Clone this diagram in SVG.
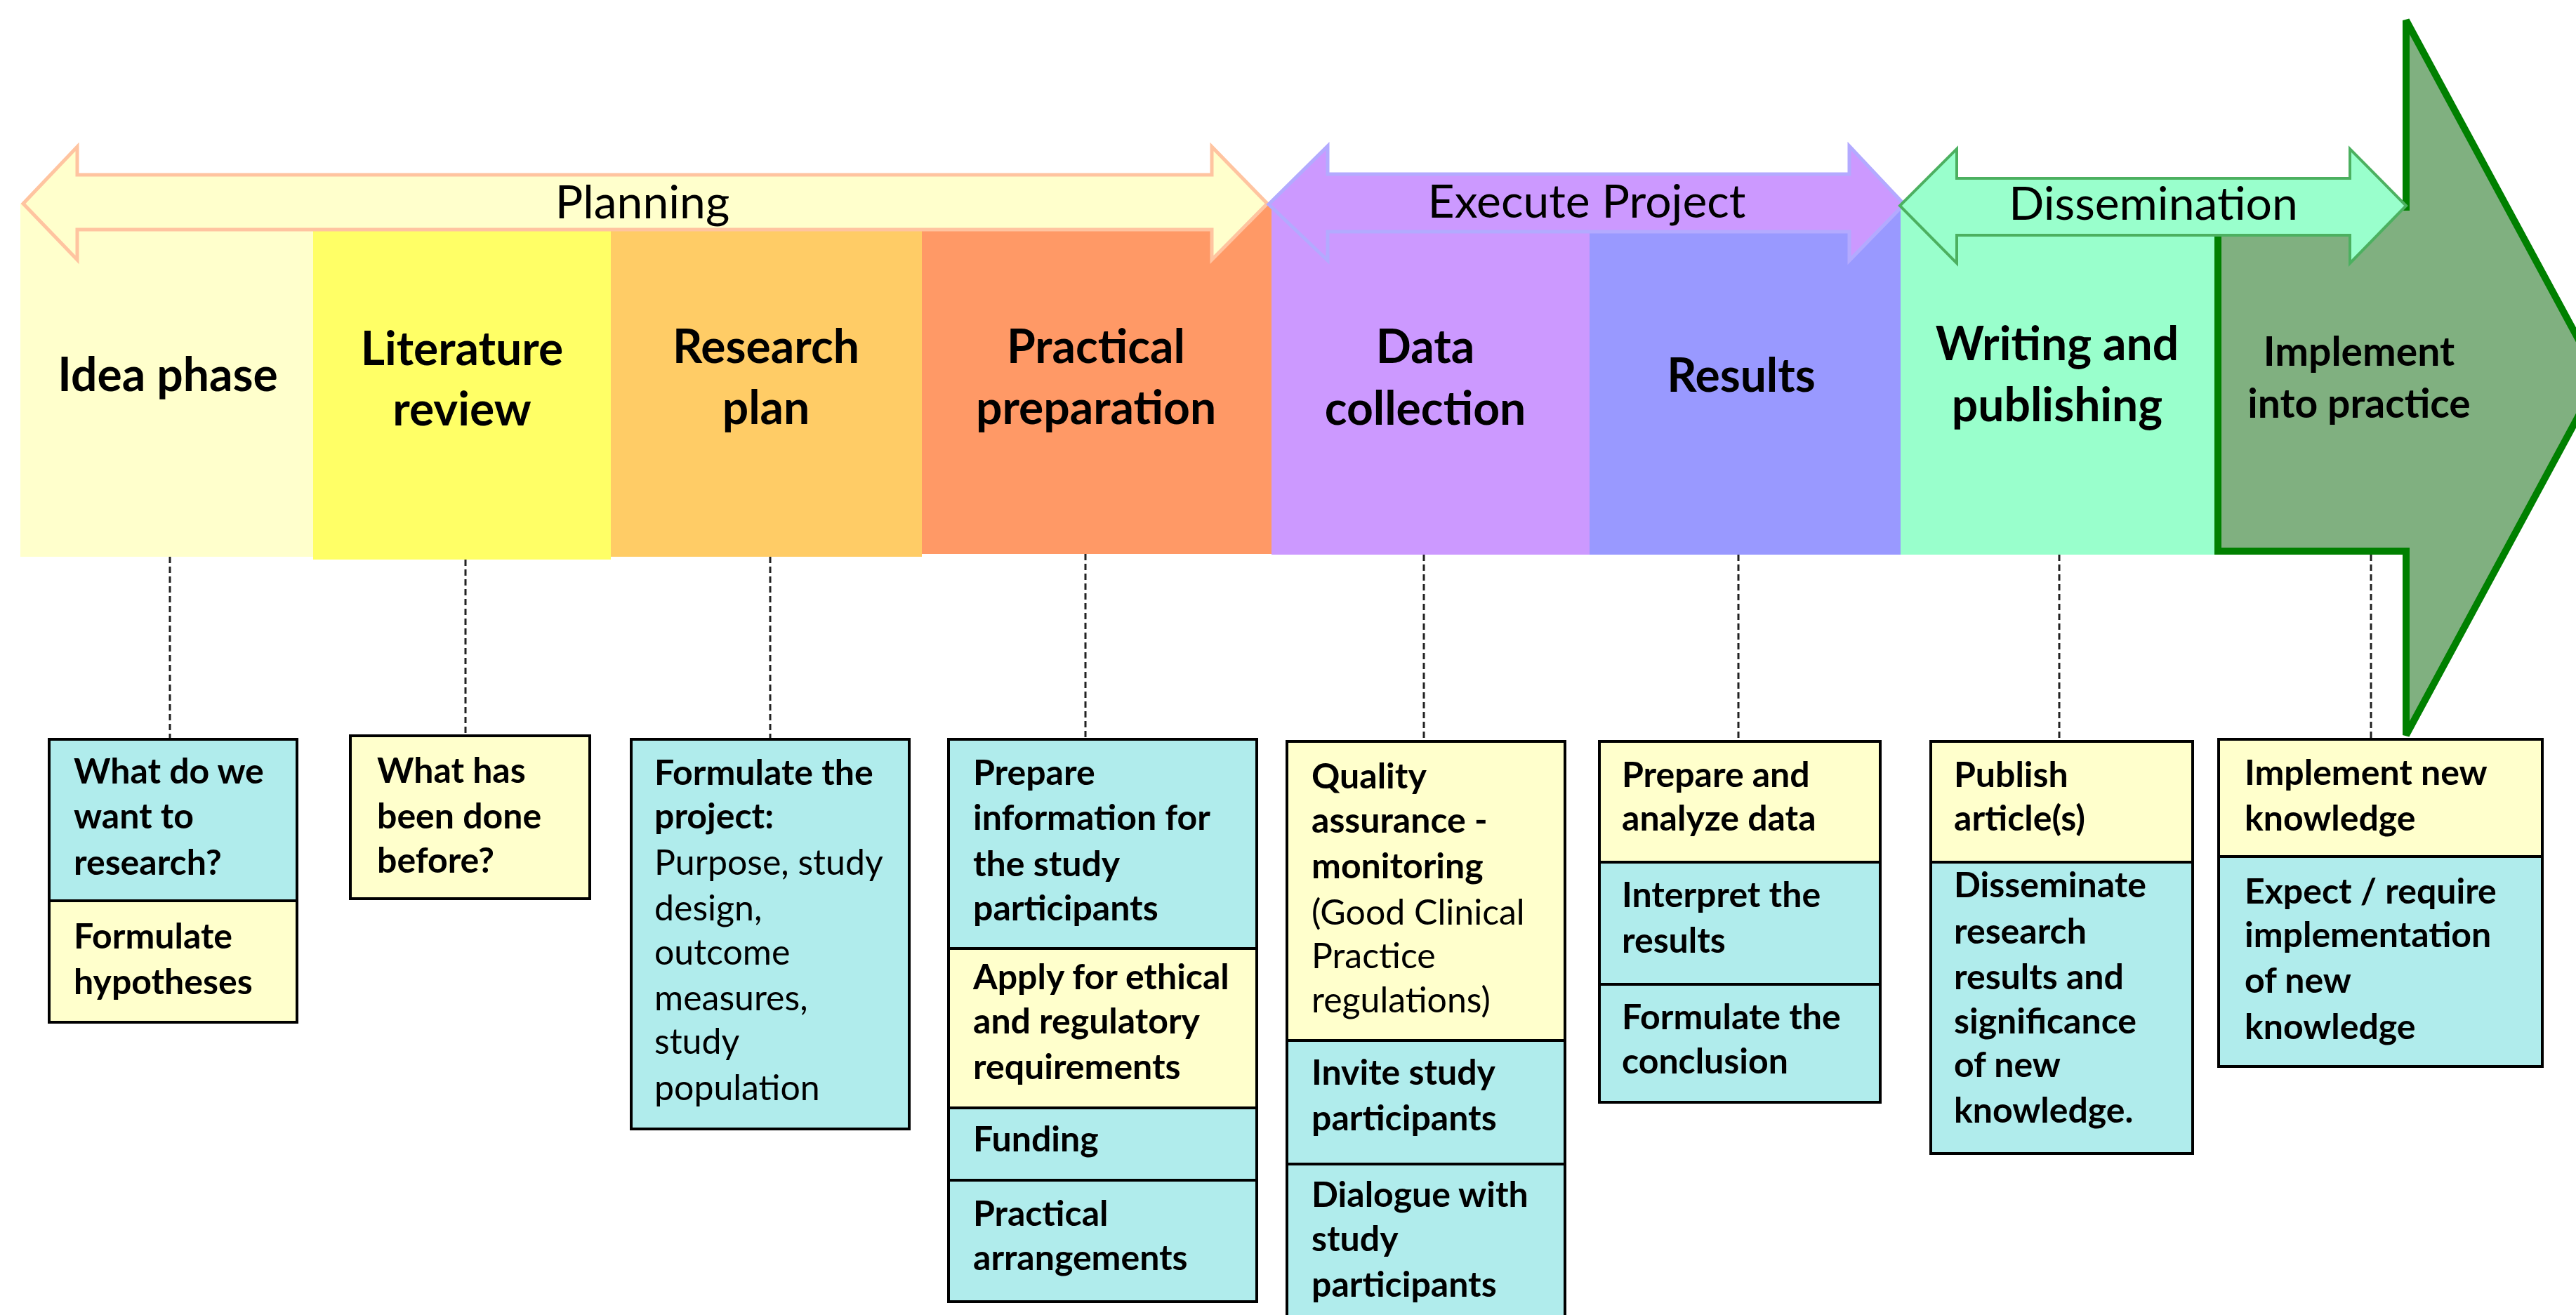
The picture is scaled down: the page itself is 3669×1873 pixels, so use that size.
<svg xmlns="http://www.w3.org/2000/svg" width="3669" height="1873" viewBox="0 0 3669 1873">
<style>
.hdr{font-family:Lato,"Open Sans","Liberation Sans",sans-serif;font-weight:700;font-size:66px;fill:#000;text-anchor:middle}
.hdr2{font-family:Lato,"Open Sans","Liberation Sans",sans-serif;font-weight:700;font-size:57px;fill:#000;text-anchor:middle}
.ban{font-family:Lato,"Open Sans","Liberation Sans",sans-serif;font-weight:400;font-size:66px;fill:#000;text-anchor:middle}
.bx{font-family:Lato,"Open Sans","Liberation Sans",sans-serif;font-weight:700;font-size:50px;fill:#000}
.rg{font-weight:400}
.cy{fill:#B0ECEC;stroke:#000;stroke-width:4}
.yl{fill:#FFFFCC;stroke:#000;stroke-width:4}
.dash{stroke:#222;stroke-width:3;stroke-dasharray:9 5;fill:none}
</style>
<rect width="3669" height="1873" fill="#fff"/>

<!-- phase bands -->
<g id="band-idea"><rect x="29" y="290" width="417" height="503" fill="#FFFFCC"/></g>
<g id="band-literature"><rect x="446" y="290" width="424" height="507" fill="#FFFF66"/></g>
<g id="band-research"><rect x="870" y="290" width="443" height="503" fill="#FFCC66"/></g>
<g id="band-practical"><rect x="1313" y="290" width="498" height="499" fill="#FF9966"/></g>
<g id="band-data"><rect x="1811" y="290" width="453" height="500" fill="#CC99FF"/></g>
<g id="band-results"><rect x="2264" y="290" width="443" height="500" fill="#9999FF"/></g>
<g id="band-writing"><rect x="2707" y="290" width="452" height="500" fill="#99FFCC"/></g>

<!-- big implement arrow -->
<g id="implement-arrow">
<polygon points="3159,290 3427,290 3427,29 3702,538 3427,1047 3427,785 3159,785" fill="#80B080"/>
<polyline points="3159,335 3159,785 3427,785 3427,1047 3702,538 3427,29 3427,300" fill="none" stroke="#008000" stroke-width="10" stroke-linejoin="miter"/>
</g>

<!-- banner arrows -->
<g id="banner-planning">
<polygon points="33,290 110,209 110,249 1726,249 1726,209 1805,290 1726,370 1726,327 110,327 110,370" fill="#FFFFCC" stroke="#FFC4A0" stroke-width="5"/>
<text class="ban" x="915" y="311">Planning</text>
</g>
<g id="banner-execute">
<polygon points="1807,291 1891,208 1891,248 2634,248 2634,208 2712,291 2634,371 2634,330 1891,330 1891,371" fill="#CC99FF" stroke="#B3AAFF" stroke-width="5"/>
<text class="ban" x="2260" y="310">Execute Project</text>
</g>
<g id="banner-dissemination">
<polygon points="2706,293 2787,212 2787,254 3347,254 3347,212 3427,293 3347,375 3347,335 2787,335 2787,375" fill="#99FFCC" stroke="#4CB060" stroke-width="4"/>
<text class="ban" x="3067" y="313">Dissemination</text>
</g>

<!-- phase headers -->
<g id="hdr-idea"><text class="hdr" x="239" y="557">Idea phase</text></g>
<g id="hdr-literature"><text class="hdr" x="658" y="520">Literature</text><text class="hdr" x="658" y="606">review</text></g>
<g id="hdr-research"><text class="hdr" x="1091" y="517">Research</text><text class="hdr" x="1091" y="604">plan</text></g>
<g id="hdr-practical"><text class="hdr" x="1561" y="517">Practical</text><text class="hdr" x="1561" y="604">preparation</text></g>
<g id="hdr-data"><text class="hdr" x="2030" y="517">Data</text><text class="hdr" x="2030" y="605">collection</text></g>
<g id="hdr-results"><text class="hdr" x="2480" y="558">Results</text></g>
<g id="hdr-writing"><text class="hdr" x="2930" y="513">Writing and</text><text class="hdr" x="2930" y="600">publishing</text></g>
<g id="hdr-implement"><text class="hdr2" x="3360" y="521">Implement</text><text class="hdr2" x="3360" y="595">into practice</text></g>

<!-- connectors -->
<g id="connectors">
<line class="dash" x1="242" y1="793" x2="242" y2="1053"/>
<line class="dash" x1="663" y1="797" x2="663" y2="1048"/>
<line class="dash" x1="1097" y1="793" x2="1097" y2="1053"/>
<line class="dash" x1="1546" y1="789" x2="1546" y2="1053"/>
<line class="dash" x1="2028" y1="790" x2="2028" y2="1056"/>
<line class="dash" x1="2476" y1="790" x2="2476" y2="1056"/>
<line class="dash" x1="2933" y1="790" x2="2933" y2="1056"/>
<line class="dash" x1="3377" y1="790" x2="3377" y2="1053"/>
</g>

<!-- boxes -->
<g id="box-idea">
<rect class="cy" x="70" y="1053" width="353" height="230"/>
<rect class="yl" x="70" y="1283" width="353" height="173"/>
<text class="bx" x="105" y="1116">What do we</text>
<text class="bx" x="105" y="1180">want to</text>
<text class="bx" x="105" y="1246">research?</text>
<text class="bx" x="105" y="1351">Formulate</text>
<text class="bx" x="105" y="1416">hypotheses</text>
</g>
<g id="box-literature">
<rect class="yl" x="499" y="1048" width="341" height="232"/>
<text class="bx" x="537" y="1115">What has</text>
<text class="bx" x="537" y="1180">been done</text>
<text class="bx" x="537" y="1243">before?</text>
</g>
<g id="box-research">
<rect class="cy" x="899" y="1053" width="396" height="555"/>
<text class="bx" x="932" y="1118">Formulate the</text>
<text class="bx" x="932" y="1180">project:</text>
<text class="bx rg" x="932" y="1246">Purpose, study</text>
<text class="bx rg" x="932" y="1311">design,</text>
<text class="bx rg" x="932" y="1374">outcome</text>
<text class="bx rg" x="932" y="1439">measures,</text>
<text class="bx rg" x="932" y="1501">study</text>
<text class="bx rg" x="932" y="1567">population</text>
</g>
<g id="box-practical">
<rect class="cy" x="1351" y="1053" width="439" height="298"/>
<rect class="yl" x="1351" y="1351" width="439" height="227"/>
<rect class="cy" x="1351" y="1578" width="439" height="103"/>
<rect class="cy" x="1351" y="1681" width="439" height="173"/>
<text class="bx" x="1386" y="1118">Prepare</text>
<text class="bx" x="1386" y="1182">information for</text>
<text class="bx" x="1386" y="1248">the study</text>
<text class="bx" x="1386" y="1311">participants</text>
<text class="bx" x="1386" y="1409">Apply for ethical</text>
<text class="bx" x="1386" y="1472">and regulatory</text>
<text class="bx" x="1386" y="1537">requirements</text>
<text class="bx" x="1386" y="1640">Funding</text>
<text class="bx" x="1386" y="1746">Practical</text>
<text class="bx" x="1386" y="1809">arrangements</text>
</g>
<g id="box-data">
<rect class="yl" x="1833" y="1056" width="396" height="426"/>
<rect class="cy" x="1833" y="1482" width="396" height="176"/>
<rect class="cy" x="1833" y="1658" width="396" height="240"/>
<text class="bx" x="1868" y="1123">Quality</text>
<text class="bx" x="1868" y="1186">assurance -</text>
<text class="bx" x="1868" y="1251">monitoring</text>
<text class="bx rg" x="1868" y="1317">(Good Clinical</text>
<text class="bx rg" x="1868" y="1379">Practice</text>
<text class="bx rg" x="1868" y="1442">regulations)</text>
<text class="bx" x="1868" y="1545">Invite study</text>
<text class="bx" x="1868" y="1610">participants</text>
<text class="bx" x="1868" y="1719">Dialogue with</text>
<text class="bx" x="1868" y="1782">study</text>
<text class="bx" x="1868" y="1847">participants</text>
</g>
<g id="box-results">
<rect class="yl" x="2278" y="1056" width="400" height="172"/>
<rect class="cy" x="2278" y="1228" width="400" height="174"/>
<rect class="cy" x="2278" y="1402" width="400" height="168"/>
<text class="bx" x="2310" y="1121">Prepare and</text>
<text class="bx" x="2310" y="1183">analyze data</text>
<text class="bx" x="2310" y="1292">Interpret the</text>
<text class="bx" x="2310" y="1357">results</text>
<text class="bx" x="2310" y="1466">Formulate the</text>
<text class="bx" x="2310" y="1529">conclusion</text>
</g>
<g id="box-writing">
<rect class="yl" x="2750" y="1056" width="373" height="172"/>
<rect class="cy" x="2750" y="1228" width="373" height="415"/>
<text class="bx" x="2783" y="1121">Publish</text>
<text class="bx" x="2783" y="1183">article(s)</text>
<text class="bx" x="2783" y="1278">Disseminate</text>
<text class="bx" x="2783" y="1344">research</text>
<text class="bx" x="2783" y="1409">results and</text>
<text class="bx" x="2783" y="1472">significance</text>
<text class="bx" x="2783" y="1534">of new</text>
<text class="bx" x="2783" y="1599">knowledge.</text>
</g>
<g id="box-implement">
<rect class="yl" x="3160" y="1053" width="461" height="167"/>
<rect class="cy" x="3160" y="1220" width="461" height="299"/>
<text class="bx" x="3197" y="1118">Implement new</text>
<text class="bx" x="3197" y="1183">knowledge</text>
<text class="bx" x="3197" y="1287">Expect / require</text>
<text class="bx" x="3197" y="1349">implementation</text>
<text class="bx" x="3197" y="1414">of new</text>
<text class="bx" x="3197" y="1480">knowledge</text>
</g>
</svg>
